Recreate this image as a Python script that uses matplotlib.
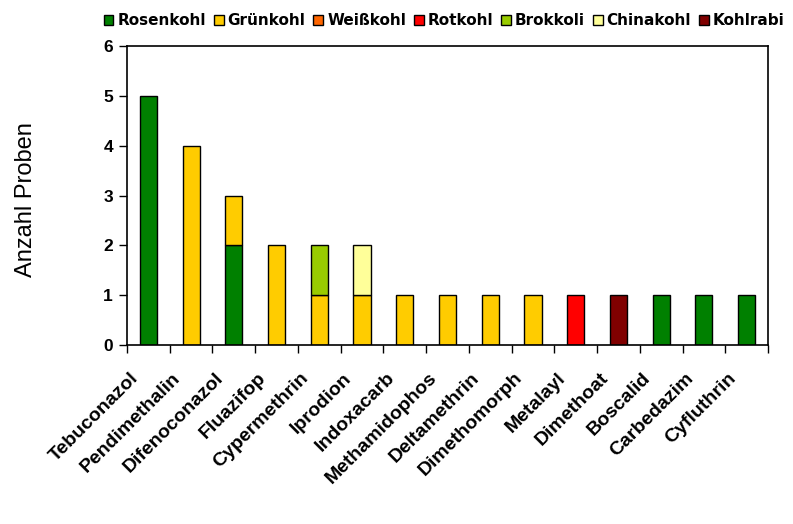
import matplotlib
matplotlib.use("Agg")
import matplotlib.pyplot as plt
import matplotlib.transforms as mtransforms
import numpy as np

categories = ["Tebuconazol", "Pendimethalin", "Difenoconazol", "Fluazifop", "Cypermethrin",
              "Iprodion", "Indoxacarb", "Methamidophos", "Deltamethrin", "Dimethomorph",
              "Metalayl", "Dimethoat", "Boscalid", "Carbedazim", "Cyfluthrin"]
rosenkohl = [5, 0, 2, 0, 0, 0, 0, 0, 0, 0, 0, 0, 1, 1, 1]
gruenkohl = [0, 4, 1, 2, 1, 1, 1, 1, 1, 1, 0, 0, 0, 0, 0]
weisskohl = [0, 0, 0, 0, 0, 0, 0, 0, 0, 0, 0, 0, 0, 0, 0]
rotkohl = [0, 0, 0, 0, 0, 0, 0, 0, 0, 0, 1, 0, 0, 0, 0]
brokkoli = [0, 0, 0, 0, 1, 0, 0, 0, 0, 0, 0, 0, 0, 0, 0]
chinakohl = [0, 0, 0, 0, 0, 1, 0, 0, 0, 0, 0, 0, 0, 0, 0]
kohlrabi = [0, 0, 0, 0, 0, 0, 0, 0, 0, 0, 0, 1, 0, 0, 0]

series = [("Rosenkohl", rosenkohl, "#008000"),
          ("Grünkohl", gruenkohl, "#FFCC00"),
          ("Weißkohl", weisskohl, "#FF6600"),
          ("Rotkohl", rotkohl, "#FF0000"),
          ("Brokkoli", brokkoli, "#99CC00"),
          ("Chinakohl", chinakohl, "#FFFF99"),
          ("Kohlrabi", kohlrabi, "#800000")]

plt.rcParams['font.family'] = ['Liberation Sans', 'DejaVu Sans']

fig = plt.figure(figsize=(7.93, 5.24), dpi=100)
ax = fig.add_axes([127/793, 1 - 345/524, (768 - 127)/793, (345 - 46)/524])

x = np.arange(len(categories))
bottom = np.zeros(len(categories))
handles = []
for name, vals, col in series:
    v = np.array(vals, dtype=float)
    b = ax.bar(x, v, width=0.4, bottom=bottom, color=col, edgecolor='black',
               linewidth=1.0, label=name)
    for rect, val in zip(b, v):
        if val == 0:
            rect.set_visible(False)
    handles.append(plt.Rectangle((0, 0), 1, 1, facecolor=col, edgecolor='black', linewidth=1.0))
    bottom += v

ax.set_xlim(-0.5, len(categories) - 0.5)
ax.set_ylim(0, 6)
ax.set_xticks(np.arange(-0.5, len(categories) + 0.5, 1), minor=True)
ax.tick_params(axis='x', which='major', length=0, pad=14)
ax.tick_params(axis='x', which='minor', length=6, width=1, direction='out')
ax.tick_params(axis='y', length=6, width=1, direction='out', pad=4)
ax.set_yticks(range(0, 7))
ax.set_yticklabels([str(i) for i in range(0, 7)], fontsize=12.5, fontweight='bold')
ax.set_xticks(x)
ax.set_xticklabels(categories, rotation=45, ha='right', va='top', rotation_mode='anchor',
                   fontsize=14, fontweight='bold')
offset = mtransforms.ScaledTranslation(-19/100, -5/100, fig.dpi_scale_trans)
for lab in ax.get_xticklabels():
    lab.set_transform(lab.get_transform() + offset)
for s in ax.spines.values():
    s.set_linewidth(1.2)

ax.set_ylabel("Anzahl Proben", fontsize=17, labelpad=48, y=0.485)

fig.legend(handles, [s[0] for s in series], loc='center', bbox_to_anchor=(0.56, 0.96),
           ncol=7, frameon=False, prop={'size': 11, 'weight': 'bold', 'family': 'DejaVu Sans'},
           handlelength=0.65, handleheight=0.65, handletextpad=0.25, columnspacing=0.52,
           borderaxespad=0)

fig.savefig("out.png", dpi=100, facecolor='white')
